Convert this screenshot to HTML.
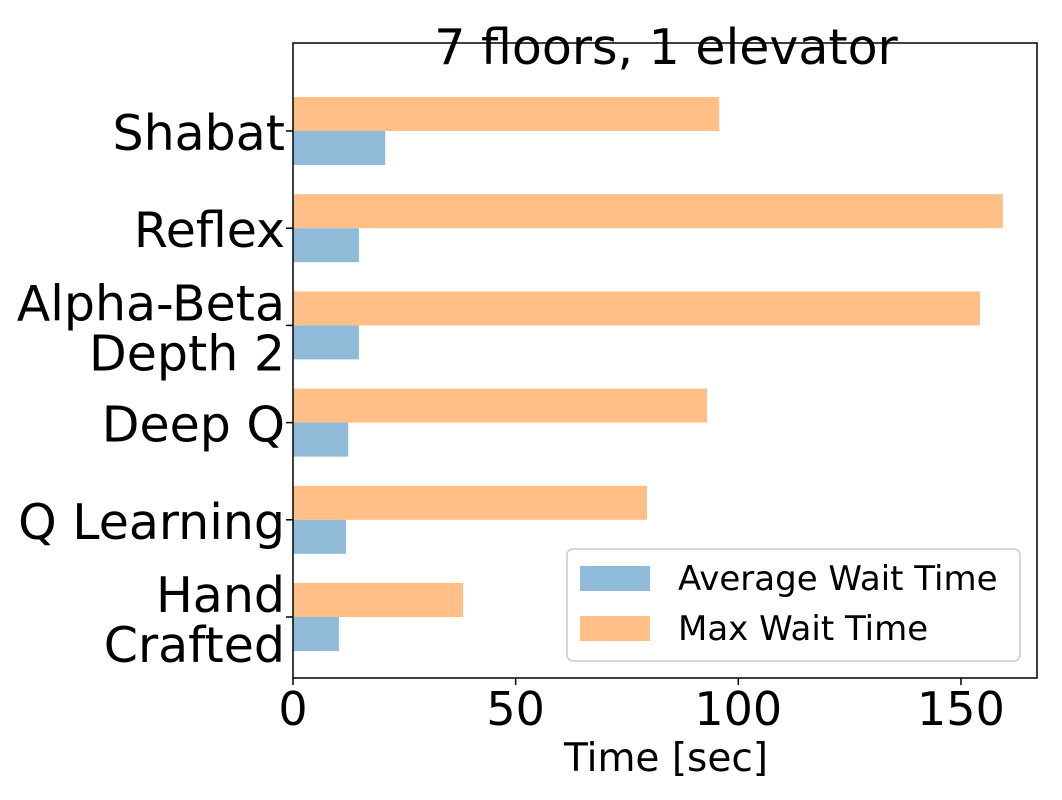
<!DOCTYPE html>
<html><head><meta charset="utf-8"><style>
body{margin:0;background:#fff;}
svg{display:block;font-family:"DejaVu Sans","Liberation Sans",sans-serif;}
</style></head><body>
<svg id="chart" width="1062" height="800">
<rect x="0" y="0" width="1062" height="800" fill="#fff"/>
<g id="bars"></g>
<rect x="293" y="43" width="744" height="635" fill="none" stroke="#000" stroke-width="1.5"/>
<g id="axes"></g>
<text x="666" y="64" font-size="49" text-anchor="middle">7 floors, 1 elevator</text>
<text x="666" y="771" font-size="39" text-anchor="middle">Time [sec]</text>
<g>
<rect x="567" y="549" width="453" height="112" rx="6" fill="#fff" fill-opacity="0.8" stroke="#ccc" stroke-width="1.5"/>
<rect x="580" y="566" width="70" height="25" fill="#8fbbd9"/>
<text x="678" y="590" font-size="34">Average Wait Time</text>
<rect x="580" y="616" width="70" height="25" fill="#ffbf86"/>
<text x="678" y="640" font-size="34">Max Wait Time</text>
</g>
</svg>
<script>
const categories=[["Shabat"],["Reflex"],["Alpha-Beta","Depth 2"],["Deep Q"],["Q Learning"],["Hand","Crafted"]];
const avgWait=[20.7,14.8,14.8,12.4,11.9,10.3];
const maxWait=[95.7,159.4,154.3,93,79.5,38.2];
const xTicks=[0,50,100,150];
const NS="http://www.w3.org/2000/svg";
const x0=293,xScale=4.453;
const xPos=v=>x0+v*xScale;
const yPos=i=>131+i*97.2;
const barH=34;
const bars=document.getElementById('bars'),axes=document.getElementById('axes');
function mk(tag,attrs,parent){const e=document.createElementNS(NS,tag);for(const k in attrs)e.setAttribute(k,attrs[k]);parent.appendChild(e);return e;}
categories.forEach((c,i)=>{
  const yc=yPos(i);
  const o=mk('rect',{x:x0,y:yc-barH,width:xPos(maxWait[i])-x0,height:barH,fill:'#ffbf86'},bars);
  
  
  const b=mk('rect',{x:x0,y:yc,width:xPos(avgWait[i])-x0,height:barH,fill:'#8fbbd9'},bars);
  
  
  mk('line',{x1:x0-7,x2:x0,y1:yc,y2:yc,stroke:'#000','stroke-width':1.5},axes);
  const t=mk('text',{x:x0-8,'font-size':49,'text-anchor':'end'},axes);
  
  
  if(c.length===1){t.setAttribute('y',yc+19);t.textContent=c[0];}
  else{c.forEach((s,j)=>{const ts=mk('tspan',{x:x0-8,y:yc-5+j*50},t);ts.textContent=s;});}
});
xTicks.forEach(v=>{
  mk('line',{x1:xPos(v),x2:xPos(v),y1:678,y2:685,stroke:'#000','stroke-width':1.5},axes);
  const t=mk('text',{x:xPos(v),y:725,'font-size':46,'text-anchor':'middle'},axes);
  
  
  t.textContent=v;
});
</script>
</body></html>
